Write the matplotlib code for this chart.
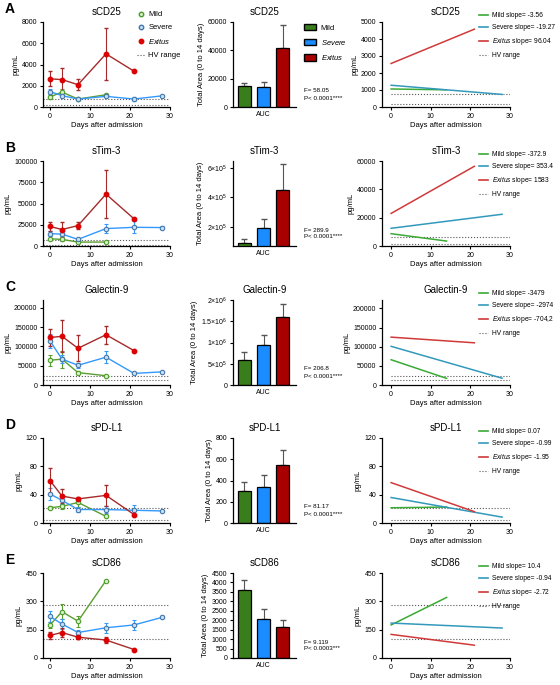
import matplotlib
matplotlib.use("Agg")
import matplotlib.pyplot as plt
from matplotlib.lines import Line2D
from matplotlib.patches import Patch

plt.rcParams['font.family'] = ['Liberation Sans', 'DejaVu Sans']
plt.rcParams['mathtext.fontset'] = 'custom'
plt.rcParams['mathtext.rm'] = 'Liberation Sans'
plt.rcParams['mathtext.it'] = 'Liberation Sans:italic'
plt.rcParams['axes.linewidth'] = 0.9

W, H = 560, 685

# ---- data ----
letters = ["A", "B", "C", "D", "E"]
markers_names = ["sCD25", "sTim-3", "Galectin-9", "sPD-L1", "sCD86"]

days_mild = [0, 3, 7, 14]
days_severe = [0, 3, 7, 14, 21, 28]
days_exitus = [0, 3, 7, 14, 21]

mild_vals = [
    [950, 1400, 750, 1150],
    [8500, 7800, 4600, 4600],
    [64000, 67000, 32000, 24000],
    [21.5, 23.5, 29, 9.4],
    [175, 245, 195, 410],
]
mild_err = [
    [150, 250, 100, 100],
    [1000, 2000, 500, 500],
    [14000, 22000, 3000, 2000],
    [2, 4, 6, 1],
    [15, 40, 30, 0],
]
severe_vals = [
    [1450, 1070, 750, 1000, 750, 1050],
    [14500, 14000, 7800, 20500, 22000, 21700],
    [114000, 67000, 51000, 72000, 30000, 34000],
    [41, 32, 19, 19, 18, 17],
    [220, 180, 135, 160, 175, 215],
]
severe_err = [
    [250, 150, 100, 100, 150, 80],
    [3000, 2500, 1000, 5500, 7000, 2000],
    [17000, 10000, 7000, 16000, 2000, 2000],
    [9, 5, 3, 5, 8, 1],
    [30, 25, 15, 25, 25, 5],
]
exitus_vals = [
    [2650, 2580, 2100, 5000, 3370],
    [23000, 19400, 24000, 61000, 32000],
    [123000, 126000, 95000, 130000, 89000],
    [60, 38, 34, 39, 12],
    [120, 135, 110, 95, 45],
]
exitus_err = [
    [720, 1050, 530, 2450, 0],
    [5500, 8500, 4000, 28000, 0],
    [21000, 41000, 34000, 24000, 0],
    [17, 10, 3, 15, 0],
    [20, 25, 10, 15, 0],
]
hv_range = [[790, 160], [6500, 1500], [23000, 12000], [21, 4.5], [280, 100]]

left_ylim = [8000, 100000, 220000, 120, 450]
left_ticks = [
    [0, 2000, 4000, 6000, 8000],
    [0, 25000, 50000, 75000, 100000],
    [0, 50000, 100000, 150000, 200000],
    [0, 40, 80, 120],
    [0, 150, 300, 450],
]

auc_vals = [
    [14500, 14000, 41500],
    [90000, 190000, 450000],
    [600000, 950000, 1600000],
    [300, 340, 545],
    [3600, 2050, 1650],
]
auc_err = [
    [2500, 3500, 16500],
    [25000, 60000, 180000],
    [180000, 230000, 300000],
    [90, 115, 145],
    [550, 550, 350],
]
auc_ylim = [(0, 60000), (67000, 650000), (0, 2000000), (0, 800), (0, 4500)]
auc_ticks = [
    [0, 20000, 40000, 60000],
    [200000, 400000, 600000],
    [0, 500000, 1000000, 1500000, 2000000],
    [0, 200, 400, 600, 800],
    [0, 500, 1000, 1500, 2000, 2500, 3000, 3500, 4000, 4500],
]
auc_ticklabels = [
    ["0", "20000", "40000", "60000"],
    [r"2×10$^5$", r"4×10$^5$", r"6×10$^5$"],
    ["0", r"5×10$^5$", r"1×10$^6$", r"1.5×10$^6$", r"2×10$^6$"],
    ["0", "200", "400", "600", "800"],
    ["0", "500", "1000", "1500", "2000", "2500", "3000", "3500", "4000", "4500"],
]
f_stats = ["58.05", "289.9", "206.8", "81.17", "9.119"]
p_stats = ["0.0001****", "0.0001****", "0.0001****", "0.0001****", "0.0003***"]

slopes = [
    [-3.56, -19.27, 96.04],
    [-372.9, 353.4, 1583],
    [-3479, -2974, -704.2],
    [0.07, -0.99, -1.95],
    [10.4, -0.94, -2.72],
]
slope_labels = [
    ["-3.56", "-19.27", "96.04"],
    ["-372.9", "353.4", "1583"],
    ["-3479", "-2974", "-704,2"],
    ["0.07", "-0.99", "-1.95"],
    ["10.4", "-0.94", "-2.72"],
]
intercepts = [
    [1060, 1280, 2560],
    [8700, 12500, 23000],
    [66000, 101000, 125000],
    [21.5, 36, 57],
    [175, 185, 125],
]
fit_end = [14, 28, 21]
right_ylim = [5000, 60000, 222000, 120, 450]
right_ticks = [
    [0, 1000, 2000, 3000, 4000, 5000],
    [0, 20000, 40000, 60000],
    [0, 50000, 100000, 150000, 200000],
    [0, 40, 80, 120],
    [0, 150, 300, 450],
]

# ---- style ----
c_mild_line, c_mild_edge, c_mild_face = "#5a9e2f", "#4c9a2a", "#d8f0c8"
c_sev_line, c_sev_edge, c_sev_face = "#3399ff", "#4477aa", "#c8dff5"
c_ex_line, c_ex_face = "#a52a2a", "#dd0000"
bar_colors = ["#3a7d1c", "#1a8cff", "#a80000"]
fit_colors = ["#3aaa35", "#3399bb", "#d03a3a"]
hv_color = "#555555"

row_bottom = [107, 246, 385, 523, 658]
row_h = 85
fs_tick = 5
fs_title = 7
fs_lab = 5.5


def add_ax(x0, x1, yb):
    return fig.add_axes([x0 / W, 1 - yb / H, (x1 - x0) / W, row_h / H])


def style(ax):
    ax.spines['top'].set_visible(False)
    ax.spines['right'].set_visible(False)
    ax.tick_params(labelsize=fs_tick, length=2.5, width=0.8, pad=1.5)


fig = plt.figure(figsize=(W / 100, H / 100), dpi=100)

for i in range(5):
    yb = row_bottom[i]
    yt = yb - row_h
    fig.text(5 / W, 1 - (yt - 13) / H, letters[i], fontsize=10, fontweight='bold',
             va='center', ha='left')

    # left: kinetics
    ax = add_ax(43, 170, yb)
    style(ax)
    for h in hv_range[i]:
        ax.axhline(h, color=hv_color, ls=':', lw=0.8)
    ax.errorbar(days_mild, mild_vals[i], yerr=mild_err[i], color=c_mild_line, lw=1,
                marker='o', ms=3.2, mfc=c_mild_face, mec=c_mild_edge, mew=0.8,
                capsize=1.5, elinewidth=0.8, ecolor=c_mild_line)
    ax.errorbar(days_severe, severe_vals[i], yerr=severe_err[i], color=c_sev_line, lw=1,
                marker='o', ms=3.2, mfc=c_sev_face, mec=c_sev_edge, mew=0.8,
                capsize=1.5, elinewidth=0.8, ecolor=c_sev_line)
    ax.errorbar(days_exitus, exitus_vals[i], yerr=exitus_err[i], color=c_ex_line, lw=1,
                marker='o', ms=3.2, mfc=c_ex_face, mec=c_ex_face,
                capsize=1.5, elinewidth=0.8, ecolor=c_ex_line)
    ax.set_xlim(-1.75, 30)
    ax.set_xticks([0, 10, 20, 30])
    ax.set_ylim(0, left_ylim[i])
    ax.set_yticks(left_ticks[i])
    ax.set_title(markers_names[i], fontsize=fs_title, pad=5)
    ax.set_xlabel("Days after admission", fontsize=fs_lab, labelpad=2)
    ax.set_ylabel("pg/mL", fontsize=fs_lab, labelpad=2)

    # middle: AUC bars
    ax = add_ax(233, 296, yb)
    style(ax)
    ax.bar([0, 1, 2], auc_vals[i], width=0.7, color=bar_colors, edgecolor='black',
           linewidth=0.9, zorder=2)
    ax.errorbar([0, 1, 2], auc_vals[i], yerr=[[0, 0, 0], auc_err[i]], fmt='none',
                ecolor='#555555', elinewidth=0.8, capsize=2, zorder=1)
    ax.set_xlim(-0.6, 2.7)
    ax.set_xticks([1])
    ax.set_xticklabels(["AUC"])
    ax.tick_params(axis='x', length=0, pad=3)
    ax.set_ylim(*auc_ylim[i])
    ax.set_yticks(auc_ticks[i])
    ax.set_yticklabels(auc_ticklabels[i])
    ax.set_title(markers_names[i], fontsize=fs_title, pad=5)
    ax.set_ylabel("Total Area (0 to 14 days)", fontsize=fs_lab, labelpad=2)
    fig.text(304 / W, 1 - (yb - 16) / H, "F= " + f_stats[i], fontsize=4.5, va='center')
    fig.text(304 / W, 1 - (yb - 9) / H, "P< " + p_stats[i], fontsize=4.5, va='center')

    # right: slopes
    ax = add_ax(382, 510, yb)
    style(ax)
    for h in hv_range[i]:
        ax.axhline(h, xmin=0.07, color=hv_color, ls=':', lw=0.8)
    handles = []
    names = ["Mild", "Severe", r"$\it{Exitus}$"]
    for k in range(3):
        x_end = fit_end[k]
        ax.plot([0, x_end], [intercepts[i][k], intercepts[i][k] + slopes[i][k] * x_end],
                color=fit_colors[k], lw=1.1)
        handles.append(Line2D([], [], color=fit_colors[k], lw=1.2,
                              label=names[k] + " slope= " + slope_labels[i][k]))
    handles.append(Line2D([], [], color=hv_color, ls=':', lw=0.8, label="HV range"))
    ax.set_xlim(-2.3, 30)
    ax.set_xticks([0, 10, 20, 30])
    ax.set_ylim(0, right_ylim[i])
    ax.set_yticks(right_ticks[i])
    ax.set_title(markers_names[i], fontsize=fs_title, pad=5)
    ax.set_xlabel("Days after admission", fontsize=fs_lab, labelpad=2)
    ax.set_ylabel("pg/mL", fontsize=fs_lab, labelpad=2)
    fig.legend(handles=handles, loc='upper left', frameon=False, fontsize=4.8,
               bbox_to_anchor=(479 / W, 1 - (yt - 10) / H), handlelength=1.4,
               handletextpad=0.5, labelspacing=0.75, borderaxespad=0, borderpad=0)

# legends on row A
h_left = [
    Line2D([], [], ls='none', marker='o', ms=3.2, mfc=c_mild_face, mec=c_mild_edge, label="Mild"),
    Line2D([], [], ls='none', marker='o', ms=3.2, mfc=c_sev_face, mec=c_sev_edge, label="Severe"),
    Line2D([], [], ls='none', marker='o', ms=3.2, mfc=c_ex_face, mec=c_ex_face, label=r"$\it{Exitus}$"),
    Line2D([], [], color=hv_color, ls=':', lw=0.8, label="HV range"),
]
fig.legend(handles=h_left, loc='upper left', frameon=False, fontsize=5.5,
           bbox_to_anchor=(137 / W, 1 - 11 / H), handlelength=1.0,
           handletextpad=0.5, labelspacing=0.75, borderaxespad=0, borderpad=0)

h_mid = [Patch(facecolor=bar_colors[0], edgecolor='black', label="Mild"),
         Patch(facecolor=bar_colors[1], edgecolor='black', label="$\\it{Severe}$"),
         Patch(facecolor=bar_colors[2], edgecolor='black', label="$\\it{Exitus}$")]
fig.legend(handles=h_mid, loc='upper left', frameon=False, fontsize=5.5,
           bbox_to_anchor=(304 / W, 1 - 24 / H), handlelength=1.6, handleheight=0.9,
           handletextpad=0.6, labelspacing=0.8, borderaxespad=0, borderpad=0)

fig.savefig("out.png", dpi=100)
